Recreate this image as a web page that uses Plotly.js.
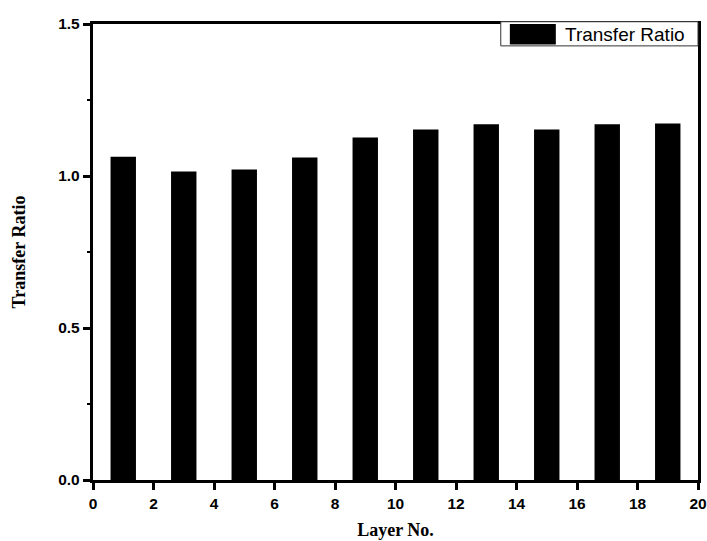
<!DOCTYPE html>
<html>
<head>
<meta charset="utf-8">
<script src="https://cdn.plot.ly/plotly-3.0.1.min.js"></script>
<style>html,body{margin:0;padding:0;background:#fff;}#chart{width:707px;height:541px;}</style>
</head>
<body>
<div id="chart"></div>
<script>
const layerNo = [1, 3, 5, 7, 9, 11, 13, 15, 17, 19];
const transferRatio = [1.063, 1.015, 1.021, 1.061, 1.127, 1.153, 1.170, 1.153, 1.170, 1.173];
const seriesName = "Transfer Ratio";
const xTitle = "Layer No.";
const yTitle = "Transfer Ratio";

const trace = {
  type: 'bar',
  x: layerNo,
  y: transferRatio,
  name: seriesName,
  width: 0.84,
  marker: {color: '#000000', line: {color: '#000000', width: 0}},
  showlegend: false
};

const axisFont = {family: 'Arial, "Liberation Sans", sans-serif', size: 15.5, color: '#000', weight: 'bold'};
const titleFont = {family: '"Times New Roman", "Liberation Serif", serif', size: 18, color: '#000', weight: 'bold'};

const layout = {
  width: 707, height: 541,
  margin: {l: 93, r: 9, t: 24, b: 61, pad: 0},
  paper_bgcolor: '#fff', plot_bgcolor: '#fff',
  xaxis: {
    range: [0, 20], dtick: 2, tick0: 0,
    showgrid: false, zeroline: false,
    showline: true, linecolor: '#000', linewidth: 3.2, mirror: true,
    ticks: 'outside', ticklen: 7, tickwidth: 3, tickcolor: '#000',
    tickfont: axisFont,
    title: {text: xTitle, font: titleFont, standoff: 13}
  },
  yaxis: {
    range: [0, 1.5], dtick: 0.5, tick0: 0, tickformat: '.1f',
    showgrid: false, zeroline: false,
    showline: true, linecolor: '#000', linewidth: 3.2, mirror: true,
    ticks: 'outside', ticklen: 7, tickwidth: 3, tickcolor: '#000',
    minor: {dtick: 0.25, ticks: 'outside', ticklen: 3, tickwidth: 2.5, tickcolor: '#000', showgrid: false},
    tickfont: axisFont,
    title: {text: yTitle, font: titleFont, standoff: 28}
  },
  shapes: [
    {type: 'rect', xref: 'paper', yref: 'paper', x0: 0.674, x1: 1.0, y0: 0.952, y1: 1.005,
     line: {color: '#333', width: 1}, fillcolor: '#fff', layer: 'above'},
    {type: 'rect', xref: 'paper', yref: 'paper', x0: 0.689, x1: 0.765, y0: 0.955, y1: 1.0,
     line: {width: 0}, fillcolor: '#000', layer: 'above'}
  ],
  annotations: [
    {xref: 'paper', yref: 'paper', x: 0.7775, y: 0.978, xanchor: 'left', yanchor: 'middle',
     text: seriesName, showarrow: false,
     font: {family: 'Arial, "Liberation Sans", sans-serif', size: 19, color: '#000'}}
  ]
};

Plotly.newPlot('chart', [trace], layout, {displayModeBar: false, staticPlot: true});
</script>
</body>
</html>
